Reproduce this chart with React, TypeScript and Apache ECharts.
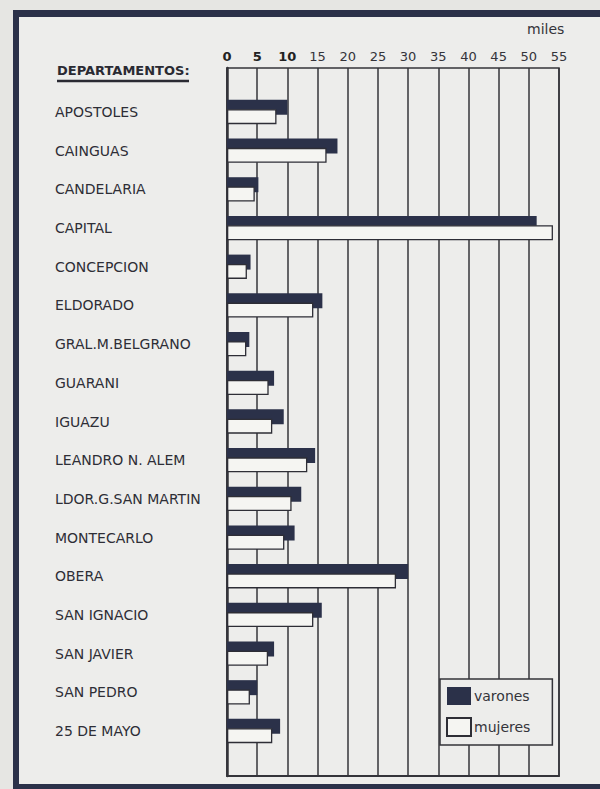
import React, { useEffect, useRef } from "react";
import * as echarts from "echarts";

const categories = [
  "APOSTOLES",
  "CAINGUAS",
  "CANDELARIA",
  "CAPITAL",
  "CONCEPCION",
  "ELDORADO",
  "GRAL.M.BELGRANO",
  "GUARANI",
  "IGUAZU",
  "LEANDRO N. ALEM",
  "LDOR.G.SAN MARTIN",
  "MONTECARLO",
  "OBERA",
  "SAN IGNACIO",
  "SAN JAVIER",
  "SAN PEDRO",
  "25 DE MAYO",
];

const varones = [10.0, 18.3, 5.2, 51.3, 3.9, 15.8, 3.7, 7.8, 9.4, 14.6, 12.3, 11.2, 30.0, 15.7, 7.8, 5.0, 8.8];
const mujeres = [8.2, 16.5, 4.6, 54.0, 3.3, 14.3, 3.2, 6.9, 7.5, 13.3, 10.7, 9.5, 28.0, 14.3, 6.8, 3.8, 7.5];

const boldTicks = [0, 5, 10];

const INK = "#34343a";
const NAVY = "#2b3149";
const PAPER = "#ededeb";

export default function App() {
  const ref = useRef<HTMLDivElement>(null);

  useEffect(() => {
    if (!ref.current) return;
    const chart = echarts.init(ref.current, undefined, { renderer: "svg" });
    const option: any = {
      animation: false,
      backgroundColor: PAPER,
      textStyle: { fontFamily: "DejaVu Sans" },
      grid: [
        {
          left: 227,
          right: 41,
          top: 68,
          bottom: 13,
          show: true,
          borderColor: INK,
          borderWidth: 1.5,
          backgroundColor: "transparent",
        },
        {
          left: 227,
          right: 41,
          top: 92.65,
          height: 657.7,
        },
      ],
      xAxis: [
        {
          gridIndex: 0,
          type: "value",
          position: "top",
          min: 0,
          max: 55,
          interval: 5,
          axisLine: { show: true, lineStyle: { color: INK, width: 2 } },
          axisTick: { show: false },
          axisLabel: {
            margin: 5,
            fontSize: 13,
            color: INK,
            formatter: (v: number) => (boldTicks.includes(v) ? `{b|${v}}` : `${v}`),
            rich: { b: { fontSize: 13, fontWeight: "bold", color: "#222" } },
          },
          splitLine: { show: true, lineStyle: { color: INK, width: 1.5 } },
        },
        {
          gridIndex: 1,
          type: "value",
          min: 0,
          max: 55,
          show: false,
        },
      ],
      yAxis: [
        {
          gridIndex: 0,
          type: "value",
          min: 0,
          max: 1,
          axisLine: { show: true, lineStyle: { color: INK, width: 2.5 } },
          axisTick: { show: false },
          axisLabel: { show: false },
          splitLine: { show: false },
        },
        {
          gridIndex: 1,
          type: "category",
          inverse: true,
          data: categories,
          axisLine: { show: false },
          axisTick: { show: false },
          splitLine: { show: false },
          axisLabel: {
            align: "left",
            margin: 172,
            fontSize: 14,
            color: "#2e2e36",
          },
        },
      ],
      legend: {
        data: ["varones", "mujeres"],
        orient: "vertical",
        left: 440,
        top: 679,
        itemWidth: 24,
        itemHeight: 18,
        itemGap: 12,
        padding: [8, 22, 8, 6],
        borderColor: INK,
        borderWidth: 1.5,
        backgroundColor: PAPER,
        selectedMode: false,
        icon: "rect",
        textStyle: { fontSize: 14, color: INK, padding: [0, 0, 0, -2] },
      },
      series: [
        {
          name: "varones",
          type: "bar",
          xAxisIndex: 1,
          yAxisIndex: 1,
          data: varones,
          barWidth: 15,
          barGap: "-38%",
          itemStyle: { color: NAVY },
        },
        {
          name: "mujeres",
          type: "bar",
          xAxisIndex: 1,
          yAxisIndex: 1,
          data: mujeres,
          barWidth: 15,
          barGap: "-38%",
          itemStyle: { color: "#f5f5f2", borderColor: "#2e2e36", borderWidth: 1.3 },
        },
      ],
      graphic: [
        { type: "rect", shape: { x: 0, y: 0, width: 600, height: 10 }, style: { fill: "#e6e6e3" }, silent: true },
        { type: "rect", shape: { x: 0, y: 0, width: 13, height: 789 }, style: { fill: "#e6e6e3" }, silent: true },
        { type: "rect", shape: { x: 13, y: 10, width: 587, height: 7 }, style: { fill: NAVY }, silent: true },
        { type: "rect", shape: { x: 13, y: 10, width: 6, height: 779 }, style: { fill: NAVY }, silent: true },
        { type: "rect", shape: { x: 13, y: 784, width: 587, height: 5 }, style: { fill: NAVY }, silent: true },
        {
          type: "text",
          left: 527,
          top: 22,
          style: { text: "miles", fontSize: 14, fill: INK, fontFamily: "DejaVu Sans" },
        },
        {
          type: "text",
          left: 57,
          top: 64,
          style: {
            text: "DEPARTAMENTOS:",
            fontSize: 13,
            fontWeight: "bold",
            fill: "#2a2a32",
            fontFamily: "DejaVu Sans",
          },
        },
        {
          type: "line",
          shape: { x1: 57, y1: 81, x2: 189, y2: 81 },
          style: { stroke: "#2a2a32", lineWidth: 2.5 },
        },
      ],
    };
    chart.setOption(option);
    return () => chart.dispose();
  }, []);

  return (
    <div
      ref={ref}
      style={{ position: "fixed", left: 0, top: 0, width: 600, height: 789 }}
    />
  );
}
